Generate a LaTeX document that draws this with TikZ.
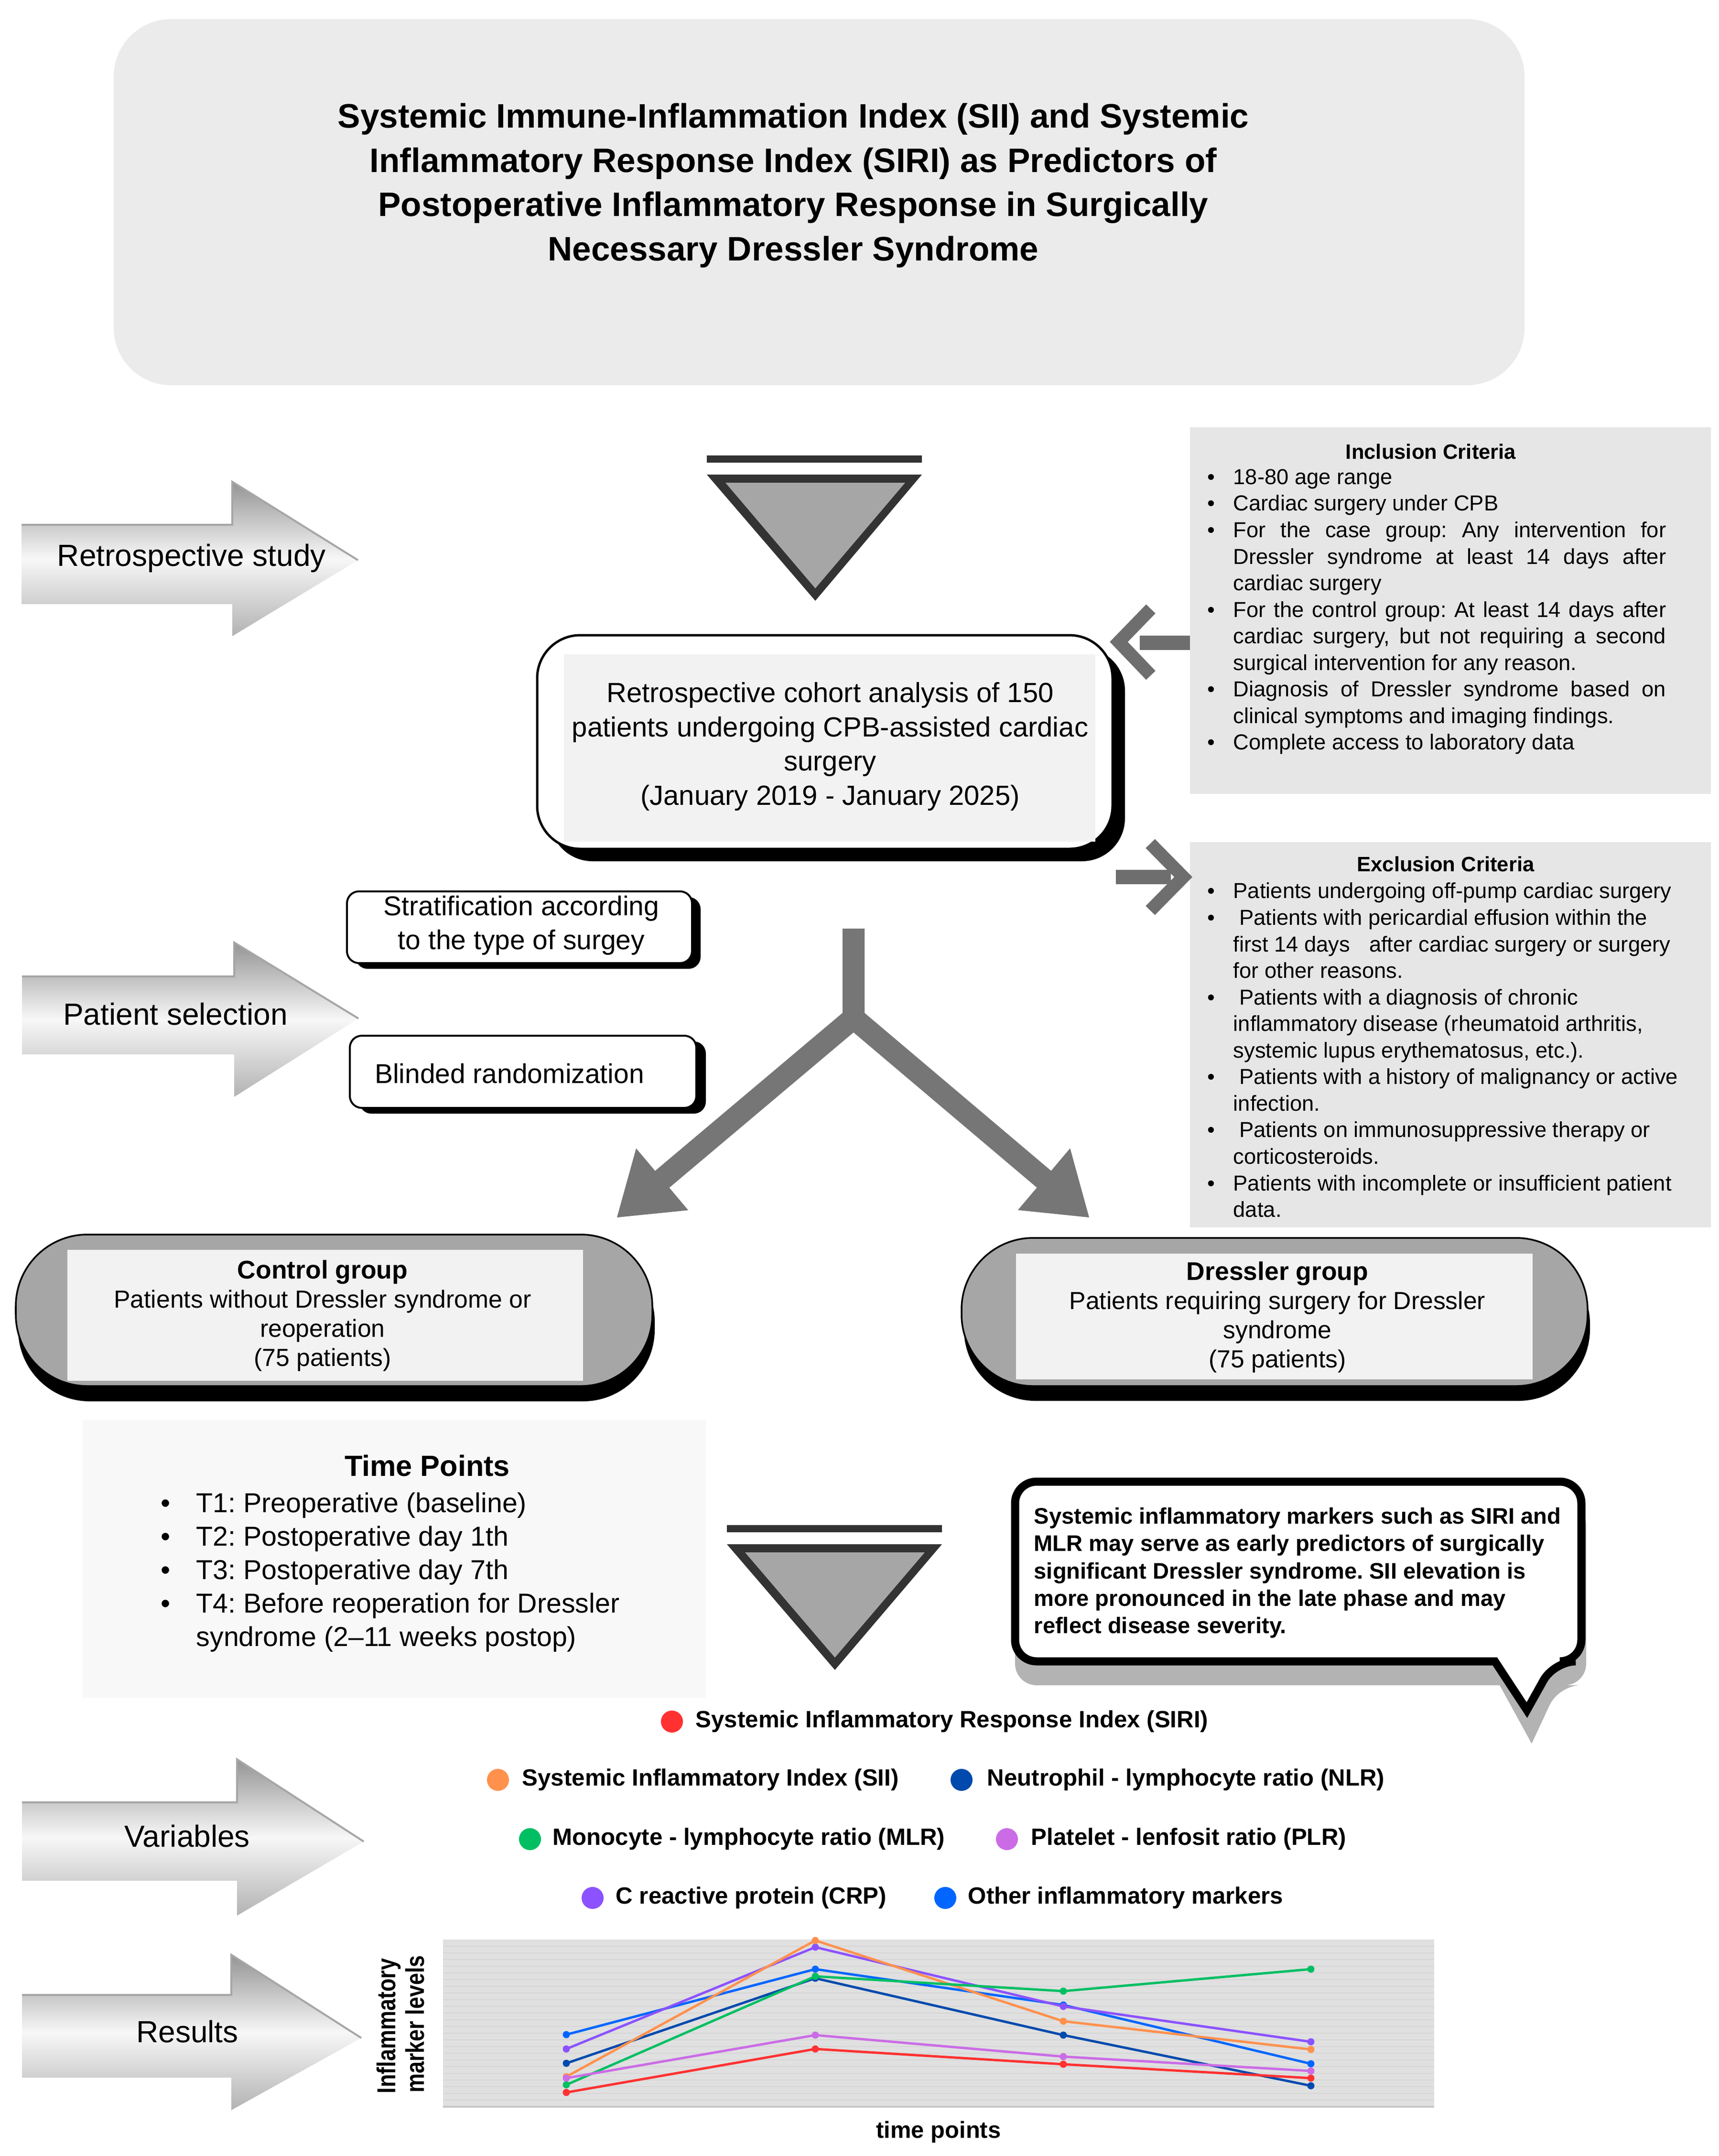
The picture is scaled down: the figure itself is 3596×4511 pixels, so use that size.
\documentclass[tikz,border=0pt]{standalone}
\usepackage{fontspec}
\usepackage{graphicx}
\setmainfont{Liberation Sans}
\usetikzlibrary{arrows.meta}
\frenchspacing
\definecolor{cSIRI}{HTML}{FF3131}
\definecolor{cSII}{HTML}{FF914D}
\definecolor{cNLR}{HTML}{004AAD}
\definecolor{cMLR}{HTML}{00BF63}
\definecolor{cPLR}{HTML}{CB6CE6}
\definecolor{cCRP}{HTML}{8C52FF}
\definecolor{cOTH}{HTML}{0066FF}
\definecolor{trigray}{HTML}{A6A6A6}
\definecolor{tridark}{HTML}{333333}
\definecolor{pillgray}{HTML}{A6A6A6}
\definecolor{innergray}{HTML}{F2F2F2}
\definecolor{critgray}{HTML}{E6E6E6}
\definecolor{titlegray}{HTML}{EBEBEB}
\definecolor{tpgray}{HTML}{F8F8F8}
\definecolor{chartbg}{HTML}{E0E0E0}
\definecolor{chartline}{HTML}{D5D5D5}
\definecolor{callshadow}{HTML}{B3B3B3}
\definecolor{yarrow}{HTML}{767676}
\definecolor{chevgray}{HTML}{6E6E6E}
\newcommand{\fsz}[2]{\fontsize{#1}{#2}\selectfont}
\newcommand{\blt}[1]{\makebox[#1][l]{\textbullet}}
\newcommand{\jline}[1]{\makebox[9.05cm][s]{#1}}
\begin{document}
\begin{tikzpicture}[x=0.01cm, y=-0.01cm,
  arrowbg/.style={top color=black!42, bottom color=black!30, middle color=black!3},
  arrowedge/.style={draw=black!35, line width=0.04cm},
  arrowlabel/.style={font=\fsz{18.2pt}{22pt}},
  whitebox/.style={draw=black, line width=0.04cm, fill=white, rounded corners=0.25cm},
  boxshadow/.style={fill=black, rounded corners=0.25cm},
  pill/.style={draw=black, line width=0.035cm, fill=pillgray, rounded corners=1.5cm},
  pillshadow/.style={fill=black, rounded corners=1.5cm},
  crittext/.style={anchor=west, align=left, inner sep=0pt, font=\fsz{12.9pt}{15.8pt}},
  crittitle/.style={font=\fsz{12.4pt}{15pt}\bfseries},
  legtext/.style={anchor=west, inner sep=0pt, font=\fsz{14pt}{17pt}\bfseries},
  series/.style={line width=0.05cm, line join=round},
  chev/.style={chevgray, line width=0.27cm, line join=miter},
  chevshaft/.style={chevgray, line width=0.3cm},
  yarm/.style={yarrow, line width=0.46cm, line join=miter, -{Triangle[length=1.25cm, width=1.6cm]}}
]
\useasboundingbox (0,0) rectangle (3596,4511);

% ---------- Title ----------
\fill[titlegray, rounded corners=1.2cm] (238,40) rectangle (3190,806);
\node[align=center, font=\fsz{20.2pt}{26.3pt}\bfseries] (title) at (1660,388)
 {Systemic Immune-Inflammation Index (SII) and Systemic\\Inflammatory Response Index (SIRI) as Predictors of\\Postoperative Inflammatory Response in Surgically\\Necessary Dressler Syndrome};

% ---------- 3D arrows ----------
\shade[arrowbg] (45,1098) -- (486,1098) -- (486,1008) -- (749,1172) -- (486,1331) -- (486,1264) -- (45,1264) -- cycle;
\draw[arrowedge] (45,1098) -- (486,1098) -- (486,1008) -- (749,1172);
\node[arrowlabel] (lretro) at (401,1168) {Retrospective study};

\shade[arrowbg] (46,2043) -- (490,2043) -- (490,1972) -- (750,2131) -- (490,2295) -- (490,2206) -- (46,2206) -- cycle;
\draw[arrowedge] (46,2043) -- (490,2043) -- (490,1972) -- (750,2131);
\node[arrowlabel] (lsel) at (367,2122) {Patient selection};

\shade[arrowbg] (46,3771) -- (496,3771) -- (496,3681) -- (761,3853) -- (496,4008) -- (496,3935) -- (46,3935) -- cycle;
\draw[arrowedge] (46,3771) -- (496,3771) -- (496,3681) -- (761,3853);
\node[arrowlabel] (lvar) at (392,3842) {Variables};

\shade[arrowbg] (46,4174) -- (484,4174) -- (484,4090) -- (756,4264) -- (484,4415) -- (484,4347) -- (46,4347) -- cycle;
\draw[arrowedge] (46,4174) -- (484,4174) -- (484,4090) -- (756,4264);
\node[arrowlabel] (lres) at (392,4251) {Results};

% ---------- Top triangle ----------
\fill[tridark] (1479,953) rectangle (1929,968);
\fill[tridark] (1479,993) -- (1929,993) -- (1706,1257) -- cycle;
\fill[trigray] (1518,1010) -- (1894,1010) -- (1706,1231) -- cycle;

% ---------- Main cohort box ----------
\fill[black, rounded corners=0.9cm] (1150,1355) rectangle (2354,1802);
\draw[line width=0.05cm, fill=white, rounded corners=0.9cm] (1124,1329) rectangle (2328,1776);
\fill[innergray] (1180,1369) rectangle (2292,1761);
\node[align=center, font=\fsz{16.5pt}{20.3pt}] (cohort) at (1737,1562)
 {Retrospective cohort analysis of 150\\patients undergoing CPB-assisted cardiac\\surgery\\(January 2019 - January 2025)};

% ---------- Inclusion criteria ----------
\fill[critgray] (2490,894) rectangle (3580,1661);
\node[crittitle] (inctitle) at (2994,945) {Inclusion Criteria};
\node[crittext] (inclist) at (2526,1280) {%
\blt{0.54cm}18-80 age range\\
\blt{0.54cm}Cardiac surgery under CPB\\
\blt{0.54cm}\jline{For the case group: Any intervention for}\\
\hspace*{0.54cm}\jline{Dressler syndrome at least 14 days after}\\
\hspace*{0.54cm}cardiac surgery\\
\blt{0.54cm}\jline{For the control group: At least 14 days after}\\
\hspace*{0.54cm}\jline{cardiac surgery, but not requiring a second}\\
\hspace*{0.54cm}surgical intervention for any reason.\\
\blt{0.54cm}\jline{Diagnosis of Dressler syndrome based on}\\
\hspace*{0.54cm}clinical symptoms and imaging findings.\\
\blt{0.54cm}Complete access to laboratory data};

% ---------- Exclusion criteria ----------
\fill[critgray] (2490,1762) rectangle (3580,2568);
\node[crittitle] (exctitle) at (3025,1808) {Exclusion Criteria};
\node[crittext] (exclist) at (2526,2197) {%
\blt{0.54cm}Patients undergoing off-pump cardiac surgery\\
\blt{0.54cm}\ Patients with pericardial effusion within the\\
\hspace*{0.54cm}first 14 days\hspace{0.6em}\ after cardiac surgery or surgery\\
\hspace*{0.54cm}for other reasons.\\
\blt{0.54cm}\ Patients with a diagnosis of chronic\\
\hspace*{0.54cm}inflammatory disease (rheumatoid arthritis,\\
\hspace*{0.54cm}systemic lupus erythematosus, etc.).\\
\blt{0.54cm}\ Patients with a history of malignancy or active\\
\hspace*{0.54cm}infection.\\
\blt{0.54cm}\ Patients on immunosuppressive therapy or\\
\hspace*{0.54cm}corticosteroids.\\
\blt{0.54cm}Patients with incomplete or insufficient patient\\
\hspace*{0.54cm}data.};

% ---------- Chevron arrows ----------
\coordinate (incL) at (2490,1345);
\coordinate (mainR) at (2341,1343);
\draw[chevshaft] (incL) -- (2385,1345);
\draw[chev] (2408,1274) -- (mainR) -- (2408,1413);
\coordinate (mainR2) at (2335,1835);
\coordinate (excL) at (2476,1835);
\draw[chevshaft] (mainR2) -- (2450,1835);
\draw[chev] (2407,1765) -- (excL) -- (2407,1905);

% ---------- Stratification / randomization ----------
\fill[boxshadow] (744,1877) rectangle (1466,2027);
\draw[whitebox] (726,1865) rectangle (1448,2015);
\node[align=center, font=\fsz{16.2pt}{20.2pt}] (strat) at (1091,1936) {Stratification according\\to the type of surgey};
\fill[boxshadow] (752,2179) rectangle (1477,2330);
\draw[whitebox] (732,2167) rectangle (1457,2318);
\node[font=\fsz{16.2pt}{20.2pt}] (blind) at (1066,2246) {Blinded randomization};

% ---------- Y split arrow ----------
\coordinate (ystem) at (1786,1943);
\coordinate (yjoin) at (1786,2130);
\coordinate (ltip) at (1290,2548);
\coordinate (rtip) at (2280,2548);
\draw[yarm] (ystem) -- (yjoin) -- (ltip);
\draw[yarm] (ystem) -- (yjoin) -- (rtip);

% ---------- Groups ----------
\fill[pillshadow] (38,2615) rectangle (1370,2932);
\draw[pill] (33,2583) rectangle (1365,2900);
\fill[innergray] (141,2615) rectangle (1220,2889);
\node[align=center, font=\fsz{14.7pt}{17.4pt}] (ctrl) at (675,2753)
 {{\fsz{15.2pt}{17.4pt}\bfseries Control group}\\Patients without Dressler syndrome or\\reoperation\\(75 patients)};

\fill[pillshadow] (2017,2620) rectangle (3327,2931);
\draw[pill] (2012,2590) rectangle (3322,2900);
\fill[innergray] (2126,2623) rectangle (3207,2886);
\node[align=center, font=\fsz{14.7pt}{17.4pt}] (dress) at (2673,2756)
 {{\fsz{15.2pt}{17.4pt}\bfseries Dressler group}\\Patients requiring surgery for Dressler\\syndrome\\(75 patients)};

% ---------- Time points ----------
\fill[tpgray] (173,2971) rectangle (1477,3552);
\node[font=\fsz{17.4pt}{20pt}\bfseries] (tptitle) at (894,3067) {Time Points};
\node[anchor=west, align=left, inner sep=0pt, font=\fsz{16.3pt}{19.9pt}] (tplist) at (336,3290) {%
\blt{0.74cm}T1: Preoperative (baseline)\\
\blt{0.74cm}T2: Postoperative day 1th\\
\blt{0.74cm}T3: Postoperative day 7th\\
\blt{0.74cm}T4: Before reoperation for Dressler\\
\hspace*{0.74cm}syndrome (2–11 weeks postop)};

% ---------- Bottom triangle ----------
\fill[tridark] (1521,3191) rectangle (1971,3206);
\fill[tridark] (1521,3231) -- (1971,3231) -- (1747,3494) -- cycle;
\fill[trigray] (1559,3248) -- (1935,3248) -- (1747,3468) -- cycle;

% ---------- Callout ----------
\fill[callshadow, rounded corners=0.45cm] (2124,3145) -- (3319,3145) -- (3319,3526) -- (3262,3526) [sharp corners] -- (3205,3648) -- (3138,3526) [rounded corners=0.45cm] -- (2124,3526) -- cycle;
\draw[line width=0.17cm, fill=white, line join=miter, rounded corners=0.45cm] (2124,3100) -- (3309,3100) -- (3309,3476) -- (3252,3476) [sharp corners] -- (3195,3578) -- (3128,3476) [rounded corners=0.45cm] -- (2124,3476) -- cycle;
\node[anchor=west, align=left, inner sep=0pt, font=\fsz{13.4pt}{16.3pt}\bfseries] (callt) at (2163,3291)
 {Systemic inflammatory markers such as SIRI and\\MLR may serve as early predictors of surgically\\significant Dressler syndrome. SII elevation is\\more pronounced in the late phase and may\\reflect disease severity.};

% ---------- Legend ----------
\fill[cSIRI] (1406,3602) circle[radius=0.23cm];
\node[legtext] (lgSIRI) at (1455,3602) {Systemic Inflammatory Response Index (SIRI)};
\fill[cSII] (1042,3724) circle[radius=0.23cm];
\node[legtext] (lgSII) at (1092,3724) {Systemic Inflammatory Index (SII)};
\fill[cNLR] (2012,3724) circle[radius=0.23cm];
\node[legtext] (lgNLR) at (2065,3724) {Neutrophil - lymphocyte ratio (NLR)};
\fill[cMLR] (1109,3848) circle[radius=0.23cm];
\node[legtext] (lgMLR) at (1156,3848) {Monocyte - lymphocyte ratio (MLR)};
\fill[cPLR] (2107,3848) circle[radius=0.23cm];
\node[legtext] (lgPLR) at (2157,3848) {Platelet - lenfosit ratio (PLR)};
\fill[cCRP] (1240,3971) circle[radius=0.23cm];
\node[legtext] (lgCRP) at (1288,3971) {C reactive protein (CRP)};
\fill[cOTH] (1978,3971) circle[radius=0.23cm];
\node[legtext] (lgOTH) at (2025,3971) {Other inflammatory markers};

% ---------- Chart ----------
\fill[chartbg] (927,4058) rectangle (3001,4410);
\foreach \yy in {4072,4086,...,4400} \draw[chartline, line width=0.025cm] (927,\yy) -- (3001,\yy);
\draw[black!22, line width=0.04cm] (927,4408) -- (3001,4408);
\node[rotate=90, anchor=base, inner sep=0pt, font=\fsz{15.4pt}{18pt}\bfseries] (ylab1) at (827,4239) {\scalebox{0.83}[1]{Inflammatory}};
\node[rotate=90, anchor=base, inner sep=0pt, font=\fsz{15.4pt}{18pt}\bfseries] (ylab2) at (887,4235) {\scalebox{0.83}[1]{marker levels}};
\node[font=\fsz{13.9pt}{16pt}\bfseries] (xlab) at (1964,4461) {time points};

\foreach \c/\a/\b/\cc/\d in {cOTH/4257/4120/4195/4318, cCRP/4287/4074/4198/4272, cNLR/4317/4139/4258/4364, cSII/4345/4060/4229/4288, cMLR/4362/4135/4166/4120, cPLR/4348/4258/4303/4333, cSIRI/4378/4287/4319/4348}{
  \draw[series, \c] (1185,\a) -- (1706,\b) -- (2225,\cc) -- (2743,\d);
  \foreach \px/\py in {1185/\a, 1706/\b, 2225/\cc, 2743/\d}
    \fill[\c] (\px,\py) circle[radius=0.075cm];
}
\end{tikzpicture}
\end{document}
